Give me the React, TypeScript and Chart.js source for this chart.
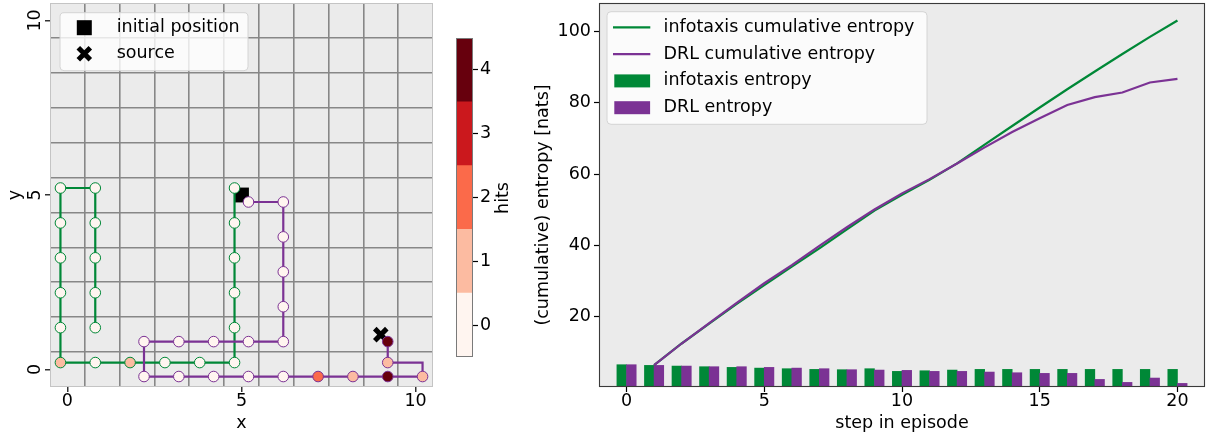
import React, { useEffect, useRef } from "react";
import { Chart, registerables } from "chart.js";

Chart.register(...registerables);

const FAMILY = '"DejaVu Sans", "Noto Sans", sans-serif';
const FS = 17.5;
const GREEN = "#008837";
const PURPLE = "#7b3294";
const BG = "#ebebeb";

// ---------- colour scale (hits) ----------
const HIT_LEVELS = [0, 1, 2, 3, 4];
const HIT_COLORS = ["#fff5f0", "#fcbba1", "#fb6a4a", "#cb181d", "#67000d"];

// ---------- left panel: grid world trajectories ----------
const GRID_MIN = -0.5;
const GRID_MAX = 10.5;
const gridTickLabels = [0, 5, 10];
const initialPosition = [5, 5];
const sourcePosition = [9, 1];

const infotaxisX = [4.8, 4.8, 4.8, 4.8, 4.8, 4.8, 3.8, 2.8, 1.8, 0.8, -0.2, -0.2, -0.2, -0.2, -0.2, -0.2, 0.8, 0.8, 0.8, 0.8, 0.8];
const infotaxisY = [5.2, 4.2, 3.2, 2.2, 1.2, 0.2, 0.2, 0.2, 0.2, 0.2, 0.2, 1.2, 2.2, 3.2, 4.2, 5.2, 5.2, 4.2, 3.2, 2.2, 1.2];
const infotaxisHits = [0, 0, 0, 0, 0, 0, 0, 0, 1, 0, 1, 0, 0, 0, 0, 0, 0, 0, 0, 0, 0];

const drlX = [5.2, 6.2, 6.2, 6.2, 6.2, 6.2, 5.2, 4.2, 3.2, 2.2, 2.2, 3.2, 4.2, 5.2, 6.2, 7.2, 8.2, 9.2, 10.2, 9.2, 9.2];
const drlY = [4.8, 4.8, 3.8, 2.8, 1.8, 0.8, 0.8, 0.8, 0.8, 0.8, -0.2, -0.2, -0.2, -0.2, -0.2, -0.2, -0.2, -0.2, -0.2, 0.2, 0.8];
const drlHits = [0, 0, 0, 0, 0, 0, 0, 0, 0, 0, 0, 0, 0, 0, 0, 2, 1, 4, 1, 1, 4];
// path of the DRL line (includes the elbow vertex)
const drlLineX = [5.2, 6.2, 6.2, 6.2, 6.2, 6.2, 5.2, 4.2, 3.2, 2.2, 2.2, 3.2, 4.2, 5.2, 6.2, 7.2, 8.2, 9.2, 10.2, 10.2, 9.2, 9.2];
const drlLineY = [4.8, 4.8, 3.8, 2.8, 1.8, 0.8, 0.8, 0.8, 0.8, 0.8, -0.2, -0.2, -0.2, -0.2, -0.2, -0.2, -0.2, -0.2, -0.2, 0.2, 0.2, 0.8];

// ---------- right panel: entropy ----------
const steps = [0, 1, 2, 3, 4, 5, 6, 7, 8, 9, 10, 11, 12, 13, 14, 15, 16, 17, 18, 19, 20];
const infotaxisEntropy = [6.55, 6.36, 6.17, 5.99, 5.8, 5.6, 5.43, 5.24, 5.15, 5.43, 4.68, 4.86, 5.05, 5.24, 5.24, 5.24, 5.24, 5.24, 5.24, 5.24, 5.24];
const drlEntropy = [6.55, 6.36, 6.17, 5.99, 5.99, 5.8, 5.6, 5.43, 5.15, 5.05, 4.96, 4.68, 4.68, 4.49, 4.3, 4.12, 4.12, 2.43, 1.59, 2.81, 1.31];
const cumSteps = [1, 2, 3, 4, 5, 6, 7, 8, 9, 10, 11, 12, 13, 14, 15, 16, 17, 18, 19, 20];
const infotaxisCumulative = [6.45, 12.5, 18.1, 23.6, 28.9, 34.1, 39.2, 44.5, 49.8, 54.2, 58.4, 63.0, 68.3, 73.5, 78.7, 83.8, 88.8, 93.7, 98.5, 103.1];
const drlCumulative = [6.45, 12.5, 18.2, 23.9, 29.4, 34.5, 39.9, 45.1, 50.1, 54.6, 58.6, 63.0, 67.5, 71.8, 75.7, 79.4, 81.6, 82.9, 85.7, 86.7];
const stepTicks = [0, 5, 10, 15, 20];
const entropyTicks = [20, 40, 60, 80, 100];
const BAR_WIDTH = 0.35;

// ---------- helpers ----------
const font = { family: FAMILY, size: FS };

function drawText(ctx: CanvasRenderingContext2D, s: string, x: number, y: number, align: CanvasTextAlign = "center", rotate = 0) {
  ctx.save();
  ctx.translate(x, y);
  if (rotate) ctx.rotate(rotate);
  ctx.font = `${FS}px ${FAMILY}`;
  ctx.fillStyle = "#000";
  ctx.textAlign = align;
  ctx.textBaseline = "middle";
  ctx.fillText(s, 0, 0);
  ctx.restore();
}

function roundBox(ctx: CanvasRenderingContext2D, x: number, y: number, w: number, h: number, r: number) {
  ctx.save();
  ctx.beginPath();
  ctx.moveTo(x + r, y);
  ctx.arcTo(x + w, y, x + w, y + h, r);
  ctx.arcTo(x + w, y + h, x, y + h, r);
  ctx.arcTo(x, y + h, x, y, r);
  ctx.arcTo(x, y, x + w, y, r);
  ctx.closePath();
  ctx.fillStyle = "rgba(255,255,255,0.8)";
  ctx.fill();
  ctx.strokeStyle = "#d4d4d4";
  ctx.lineWidth = 1;
  ctx.stroke();
  ctx.restore();
}

const near = (a: number, b: number) => Math.abs(a - b) < 1e-6;
const isMajor = (v: number) => gridTickLabels.some((t) => near(t, v));
const isBoundary = (v: number) =>
  Math.abs(v - Math.round(v)) > 0.25 && v > GRID_MIN + 1e-6 && v < GRID_MAX - 1e-6;
const halfTicks: number[] = [];
for (let k = 0; GRID_MIN + k * 0.5 <= GRID_MAX + 1e-9; k++) halfTicks.push(GRID_MIN + k * 0.5);

const zeroPad = (s: any) => {
  s.paddingTop = 0;
  s.paddingBottom = 0;
  s.paddingLeft = 0;
  s.paddingRight = 0;
};

function gridAxis(size: number, horizontal: boolean) {
  return {
    type: "linear" as const,
    min: GRID_MIN,
    max: GRID_MAX,
    offset: false,
    afterBuildTicks: (s: any) => {
      s.ticks = halfTicks.map((v) => ({ value: v }));
    },
    afterFit: (s: any) => {
      if (horizontal) s.height = size;
      else s.width = size;
      zeroPad(s);
    },
    grid: {
      color: (c: any) => (c.tick && isBoundary(c.tick.value) ? "#878787" : "rgba(0,0,0,0)"),
      lineWidth: 1.6,
      drawTicks: true,
      tickLength: 5,
      tickWidth: 1.2,
      tickColor: (c: any) => (c.tick && isMajor(c.tick.value) ? "#000" : "rgba(0,0,0,0)"),
    },
    border: { display: false },
    ticks: horizontal
      ? {
          autoSkip: false,
          maxRotation: 0,
          minRotation: 0,
          padding: -1,
          color: "#000",
          font,
          callback: (v: any) => (isMajor(Number(v)) ? String(Math.round(Number(v))) : ""),
        }
      : { display: false },
  };
}

function makeLeft(canvas: HTMLCanvasElement) {
  const hitColor = (h: number) => HIT_COLORS[HIT_LEVELS.indexOf(h)];
  const decor = {
    id: "leftDecor",
    beforeDraw(chart: any) {
      const { ctx, chartArea: a } = chart;
      ctx.save();
      ctx.fillStyle = BG;
      ctx.fillRect(a.left, a.top, a.right - a.left, a.bottom - a.top);
      ctx.restore();
    },
    afterDraw(chart: any) {
      const { ctx, chartArea: a, scales } = chart;
      ctx.save();
      ctx.strokeStyle = "#c4c4c4";
      ctx.lineWidth = 1;
      ctx.strokeRect(a.left + 0.5, a.top + 0.5, a.right - a.left - 1, a.bottom - a.top - 1);
      ctx.restore();
      for (const v of gridTickLabels) {
        drawText(ctx, String(v), a.left - 15, scales.y.getPixelForValue(v), "center", -Math.PI / 2);
      }
      drawText(ctx, "x", (a.left + a.right) / 2, 423);
      drawText(ctx, "y", 15, (a.top + a.bottom) / 2, "center", -Math.PI / 2);
      // legend
      const bx = a.left + 10;
      const by = a.top + 9.7;
      roundBox(ctx, bx, by, 188, 58, 4);
      const mx = bx + 24.3;
      ctx.save();
      ctx.fillStyle = "#000";
      ctx.fillRect(mx - 7.5, by + 15 - 7.5, 15, 15);
      ctx.strokeStyle = "#000";
      ctx.lineWidth = 5;
      const d = 6;
      const cy = by + 41;
      ctx.beginPath();
      ctx.moveTo(mx - d, cy - d);
      ctx.lineTo(mx + d, cy + d);
      ctx.moveTo(mx + d, cy - d);
      ctx.lineTo(mx - d, cy + d);
      ctx.stroke();
      ctx.restore();
      drawText(ctx, "initial position", bx + 56.7, by + 15, "left");
      drawText(ctx, "source", bx + 56.7, by + 41, "left");
    },
  };

  return new Chart(canvas, {
    type: "scatter",
    data: {
      datasets: [
        {
          label: "initial position",
          data: [{ x: initialPosition[0], y: initialPosition[1] }],
          pointStyle: "rect",
          pointRadius: 10.5,
          backgroundColor: "#000",
          pointBackgroundColor: "#000",
          borderWidth: 0,
          pointBorderWidth: 0,
          order: 10,
        },
        {
          label: "source",
          data: [{ x: sourcePosition[0], y: sourcePosition[1] }],
          pointStyle: "crossRot",
          pointRadius: 8.5,
          borderColor: "#000",
          pointBorderColor: "#000",
          pointBorderWidth: 5,
          borderWidth: 5,
          order: 9,
        },
        {
          label: "infotaxis path",
          data: infotaxisX.map((x, i) => ({ x, y: infotaxisY[i] })),
          showLine: true,
          borderColor: GREEN,
          borderWidth: 2.2,
          pointRadius: 0,
          order: 8,
        },
        {
          label: "infotaxis hits",
          data: infotaxisX.map((x, i) => ({ x, y: infotaxisY[i] })),
          showLine: false,
          pointRadius: 5.3,
          pointBackgroundColor: infotaxisHits.map(hitColor),
          backgroundColor: infotaxisHits.map(hitColor),
          pointBorderColor: GREEN,
          borderColor: GREEN,
          pointBorderWidth: 1,
          order: 7,
        },
        {
          label: "DRL path",
          data: drlLineX.map((x, i) => ({ x, y: drlLineY[i] })),
          showLine: true,
          borderColor: PURPLE,
          borderWidth: 2.2,
          pointRadius: 0,
          order: 6,
        },
        {
          label: "DRL hits",
          data: drlX.map((x, i) => ({ x, y: drlY[i] })),
          showLine: false,
          pointRadius: 5.3,
          pointBackgroundColor: drlHits.map(hitColor),
          backgroundColor: drlHits.map(hitColor),
          pointBorderColor: PURPLE,
          borderColor: PURPLE,
          pointBorderWidth: 1,
          order: 5,
        },
      ],
    },
    options: {
      responsive: false,
      maintainAspectRatio: false,
      animation: false,
      devicePixelRatio: 1,
      layout: { autoPadding: false, padding: { left: 0, right: 7, top: 3, bottom: 0 } },
      plugins: { legend: { display: false }, tooltip: { enabled: false } },
      scales: {
        x: gridAxis(48, true) as any,
        y: gridAxis(50, false) as any,
      },
    },
    plugins: [decor],
  });
}

function makeColorbar(canvas: HTMLCanvasElement) {
  const decor = {
    id: "cbDecor",
    afterDraw(chart: any) {
      const { ctx, chartArea: a } = chart;
      ctx.save();
      ctx.strokeStyle = "#7a7a7a";
      ctx.lineWidth = 1;
      ctx.strokeRect(a.left + 0.5, a.top + 0.5, a.right - a.left - 1, a.bottom - a.top - 1);
      ctx.restore();
      drawText(ctx, "hits", 63, 198, "center", -Math.PI / 2);
    },
  };
  return new Chart(canvas, {
    type: "bar",
    data: {
      labels: ["hits"],
      datasets: HIT_LEVELS.map((h, i) => ({
        label: String(h),
        data: [[h - 0.5, h + 0.5]] as any,
        backgroundColor: HIT_COLORS[i],
        borderWidth: 0,
        barPercentage: 1,
        categoryPercentage: 1,
        grouped: false,
      })),
    },
    options: {
      responsive: false,
      maintainAspectRatio: false,
      animation: false,
      devicePixelRatio: 1,
      layout: { autoPadding: false, padding: { left: 16, right: 0, top: 38, bottom: 78 } },
      plugins: { legend: { display: false }, tooltip: { enabled: false } },
      scales: {
        x: { display: false },
        y: {
          position: "right",
          min: -0.5,
          max: 4.5,
          afterBuildTicks: (s: any) => {
            s.ticks = HIT_LEVELS.map((v) => ({ value: v }));
          },
          afterFit: (s: any) => {
            s.width = 47;
            zeroPad(s);
          },
          grid: { drawOnChartArea: false, drawTicks: true, tickLength: 5, tickColor: "#000", tickWidth: 1.2 },
          border: { display: false },
          ticks: { padding: 2, color: "#000", font },
        },
      },
    },
    plugins: [decor],
  });
}

function makeRight(canvas: HTMLCanvasElement) {
  const decor = {
    id: "rightDecor",
    beforeDraw(chart: any) {
      const { ctx, chartArea: a } = chart;
      ctx.save();
      ctx.fillStyle = BG;
      ctx.fillRect(a.left, a.top, a.right - a.left, a.bottom - a.top);
      ctx.restore();
    },
    afterDraw(chart: any) {
      const { ctx, chartArea: a } = chart;
      ctx.save();
      ctx.strokeStyle = "#3a3a3a";
      ctx.lineWidth = 1.1;
      ctx.strokeRect(a.left + 0.5, a.top + 0.5, a.right - a.left - 1, a.bottom - a.top - 1);
      ctx.restore();
      drawText(ctx, "step in episode", (a.left + a.right) / 2, 423);
      drawText(ctx, "(cumulative) entropy [nats]", 23, 205, "center", -Math.PI / 2);
      // legend
      const bx = a.left + 8;
      const by = a.top + 8.7;
      roundBox(ctx, bx, by, 320, 112.6, 4);
      const rows = [
        { kind: "line", color: GREEN, label: "infotaxis cumulative entropy" },
        { kind: "line", color: PURPLE, label: "DRL cumulative entropy" },
        { kind: "bar", color: GREEN, label: "infotaxis entropy" },
        { kind: "bar", color: PURPLE, label: "DRL entropy" },
      ];
      rows.forEach((r, i) => {
        const cy = by + 15.6 + i * 26.8;
        ctx.save();
        if (r.kind === "line") {
          ctx.strokeStyle = r.color;
          ctx.lineWidth = 2.2;
          ctx.beginPath();
          ctx.moveTo(bx + 6, cy);
          ctx.lineTo(bx + 43.3, cy);
          ctx.stroke();
        } else {
          ctx.fillStyle = r.color;
          ctx.fillRect(bx + 7.3, cy - 6.5, 35.8, 13);
        }
        ctx.restore();
        drawText(ctx, r.label, bx + 56.6, cy, "left");
      });
    },
  };

  return new Chart(canvas, {
    type: "bar",
    data: {
      datasets: [
        {
          type: "line",
          label: "DRL cumulative entropy",
          data: cumSteps.map((x, i) => ({ x, y: drlCumulative[i] })),
          borderColor: PURPLE,
          borderWidth: 2.2,
          pointRadius: 0,
          tension: 0,
          order: 0,
        } as any,
        {
          type: "line",
          label: "infotaxis cumulative entropy",
          data: cumSteps.map((x, i) => ({ x, y: infotaxisCumulative[i] })),
          borderColor: GREEN,
          borderWidth: 2.2,
          pointRadius: 0,
          tension: 0,
          order: 1,
        },
        {
          type: "bar",
          label: "DRL entropy",
          data: steps.map((s, i) => ({ x: s + BAR_WIDTH / 2, y: drlEntropy[i] })),
          backgroundColor: PURPLE,
          borderWidth: 0,
          grouped: false,
          barPercentage: 1,
          categoryPercentage: 1,
          order: 2,
        },
        {
          type: "bar",
          label: "infotaxis entropy",
          data: steps.map((s, i) => ({ x: s - BAR_WIDTH / 2, y: infotaxisEntropy[i] })),
          backgroundColor: GREEN,
          borderWidth: 0,
          grouped: false,
          barPercentage: 1,
          categoryPercentage: 1,
          order: 3,
        },
      ],
    },
    options: {
      responsive: false,
      maintainAspectRatio: false,
      animation: false,
      devicePixelRatio: 1,
      layout: { autoPadding: false, padding: { left: 39, right: 2, top: 3, bottom: 0 } },
      plugins: { legend: { display: false }, tooltip: { enabled: false } },
      scales: {
        x: {
          type: "linear",
          min: -1,
          max: 21,
          offset: false,
          afterBuildTicks: (s: any) => {
            s.ticks = stepTicks.map((v) => ({ value: v }));
          },
          afterFit: (s: any) => {
            s.height = 48;
            zeroPad(s);
          },
          grid: { drawOnChartArea: false, offset: false, drawTicks: true, tickLength: 5, tickColor: "#000", tickWidth: 1.2 },
          border: { display: false },
          ticks: { padding: -1, maxRotation: 0, minRotation: 0, autoSkip: false, color: "#000", font },
        },
        y: {
          type: "linear",
          min: 0.3,
          max: 108,
          beginAtZero: true,
          afterBuildTicks: (s: any) => {
            s.ticks = entropyTicks.map((v) => ({ value: v }));
          },
          afterFit: (s: any) => {
            s.width = 40;
            zeroPad(s);
          },
          grid: { drawOnChartArea: false, drawTicks: true, tickLength: 5, tickColor: "#000", tickWidth: 1.2 },
          border: { display: false },
          ticks: { padding: 3, color: "#000", font },
        },
      },
    },
    plugins: [decor],
  });
}

export default function App() {
  const leftRef = useRef<HTMLCanvasElement>(null);
  const cbRef = useRef<HTMLCanvasElement>(null);
  const rightRef = useRef<HTMLCanvasElement>(null);

  useEffect(() => {
    Chart.defaults.font.family = FAMILY;
    const charts: Chart[] = [];
    if (leftRef.current) charts.push(makeLeft(leftRef.current));
    if (cbRef.current) charts.push(makeColorbar(cbRef.current));
    if (rightRef.current) charts.push(makeRight(rightRef.current));
    return () => charts.forEach((c) => c.destroy());
  }, []);

  const abs = (left: number, width: number): React.CSSProperties => ({
    position: "absolute",
    left,
    top: 0,
    width,
    height: 435,
  });

  return (
    <div style={{ position: "fixed", left: 0, top: 0, width: 1207, height: 435, background: "#fff", overflow: "hidden" }}>
      <canvas ref={leftRef} width={440} height={435} style={abs(0, 440)} />
      <canvas ref={cbRef} width={80} height={435} style={abs(440, 80)} />
      <canvas ref={rightRef} width={687} height={435} style={abs(520, 687)} />
    </div>
  );
}
